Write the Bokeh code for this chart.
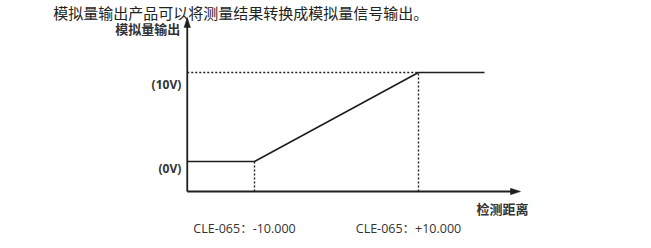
from bokeh.plotting import figure
from bokeh.models import Range1d, Label
from bokeh.embed import file_html
from bokeh.resources import INLINE

# ---- data ----
dist = [-18.2, -10.0, 10.0, 18.05]      # detection distance (curve breakpoints)
volt = [0.0, 0.0, 10.0, 10.0]           # analog output (V)
x_marks = [-10.0, 10.0]                 # range limits
x_mark_labels = ["CLE-065：-10.000", "CLE-065：+10.000"]
y_marks = [0.0, 10.0]
y_mark_labels = ["(0V)", "(10V)"]
axis_x0, axis_y0 = -18.2, -3.37
axis_x1, axis_y1 = 22.44, 16.18
title_text = "模拟量输出产品可以将测量结果转换成模拟量信号输出。"
y_title = "模拟量输出"
x_title = "检测距离"

W, H = 643, 240
SX, SY = 8.2, 8.9
x_start = -10 - 254 / SX
y_end = 161 / SY

p = figure(width=W, height=H, output_backend="svg", toolbar_location=None,
           x_range=Range1d(x_start, x_start + W / SX),
           y_range=Range1d(y_end - H / SY, y_end),
           min_border=0, outline_line_color=None)
p.axis.visible = False
p.grid.visible = False
p.background_fill_color = "white"
p.border_fill_color = "white"

def dx(px):  # pixel offset -> data x
    return px / SX
def dy(px):
    return px / SY

ink = "#1e1e1e"

# dashed guides
p.line([axis_x0, x_marks[1]], [y_marks[1], y_marks[1]], line_color=ink, line_width=1.4, line_dash="2 2")
p.line([x_marks[1], x_marks[1]], [axis_y0, y_marks[1]], line_color=ink, line_width=1.4, line_dash="2 2")
p.line([x_marks[0], x_marks[0]], [axis_y0, y_marks[0]], line_color=ink, line_width=1.4, line_dash="2 2")

# response curve
p.line(dist, volt, line_color=ink, line_width=1.6)

# axes
p.line([axis_x0, axis_x1 - dx(8)], [axis_y0, axis_y0], line_color=ink, line_width=1.8)
p.line([axis_x0, axis_x0], [axis_y0, axis_y1 - dy(8)], line_color=ink, line_width=1.8)
# arrow heads
p.patch([axis_x1, axis_x1 - dx(10), axis_x1 - dx(10)],
        [axis_y0, axis_y0 + dy(3.2), axis_y0 - dy(3.2)], fill_color=ink, line_color=ink, line_width=0.5)
p.patch([axis_x0, axis_x0 - dx(3.2), axis_x0 + dx(3.2)],
        [axis_y1, axis_y1 - dy(10), axis_y1 - dy(10)], fill_color=ink, line_color=ink, line_width=0.5)

lat = "'Open Sans', 'Noto Sans CJK SC'"
cjk = "Noto Sans CJK SC"

# y tick labels
for yv, txt, off in zip(y_marks, y_mark_labels, [7, 12]):
    p.add_layout(Label(x=axis_x0 - dx(6), y=yv - dy(off), text=txt, text_align="right",
                       text_baseline="middle", text_font=lat, text_font_size="12px",
                       text_color="#333333", text_font_style="bold"))
# x tick labels
for xv, txt in zip(x_marks, x_mark_labels):
    p.add_layout(Label(x=xv - dx(10), y=axis_y0 - dy(37), text=txt, text_align="center",
                       text_baseline="middle", text_font=lat, text_font_size="12.5px",
                       text_color="#333333"))
# axis titles
p.add_layout(Label(x=axis_x0 - dx(7), y=axis_y1 - dy(11), text=y_title, text_align="right",
                   text_baseline="middle", text_font=cjk, text_font_size="13px",
                   text_font_style="bold", text_color="#333333"))
p.add_layout(Label(x=axis_x1 + dx(8), y=axis_y0 - dy(17), text=x_title, text_align="right",
                   text_baseline="middle", text_font=cjk, text_font_size="13px",
                   text_font_style="bold", text_color="#333333"))
# heading
p.add_layout(Label(x=axis_x0 - dx(134), y=y_end - dy(1), text=title_text, text_align="left",
                   text_baseline="top", text_font=cjk, text_font_size="15px",
                   text_color="#222222"))

open("out.html", "w").write(file_html(p, INLINE))
